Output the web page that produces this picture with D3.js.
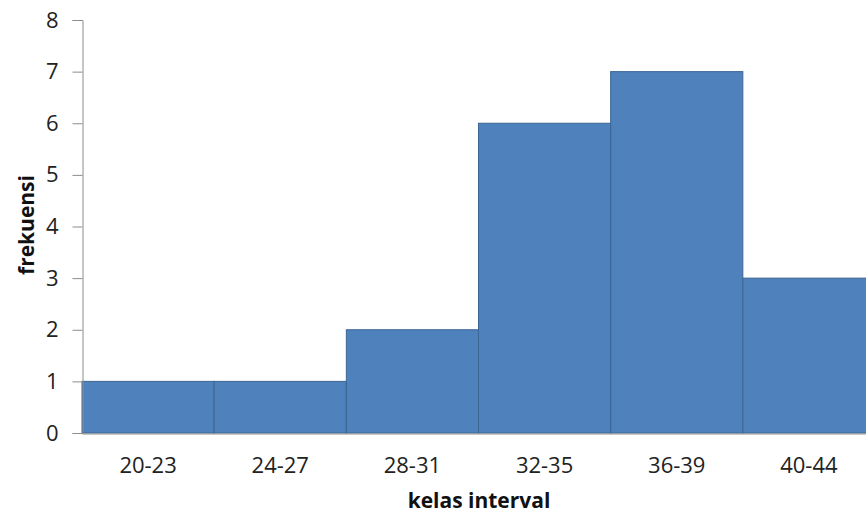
<!DOCTYPE html>
<html><head><meta charset="utf-8">
<script src="https://cdn.jsdelivr.net/npm/d3@7"></script>
<style>body{margin:0;background:#fff;} svg{display:block;}</style>
</head><body>
<script>
const categories = ["20-23","24-27","28-31","32-35","36-39","40-44"];
const frekuensi = [1,1,2,6,7,3];
const yTicks = [0,1,2,3,4,5,6,7,8];

(function(){
const W = 866, H = 515;
const svg = d3.select("body").append("svg").attr("width", W).attr("height", H);
const pL = 82, pR = 875, pT = 20, pB = 433;
const x = d3.scaleBand().domain(categories).range([pL, pR]).padding(0);
const y = d3.scaleLinear().domain([0, 8]).range([pB, pT]);
const font = "'Open Sans', sans-serif";

svg.append("g").selectAll("rect").data(frekuensi).join("rect")
  .attr("x", (d,i) => x(categories[i]))
  .attr("y", d => y(d))
  .attr("width", x.bandwidth())
  .attr("height", d => y(0) - y(d))
  .attr("fill", "#4F81BD")
  .attr("stroke", "#3B6592")
  .attr("stroke-width", 1);

const yAxis = svg.append("g").attr("transform", `translate(${pL + 0.5},0)`)
  .call(d3.axisLeft(y).tickValues(yTicks).tickFormat(d3.format("d")).tickSize(10).tickPadding(14));
yAxis.select(".domain").attr("stroke", "#8c8c8c");
yAxis.selectAll(".tick line").attr("stroke", "#8c8c8c");
yAxis.selectAll(".tick text").attr("font-family", font).attr("font-size", 22).attr("fill", "#222");

const xAxis = svg.append("g").attr("transform", `translate(0,${pB + 0.5})`)
  .call(d3.axisBottom(x).tickSize(0).tickPadding(24));
xAxis.select(".domain").attr("stroke", "#8c8c8c");
xAxis.selectAll(".tick text").attr("font-family", font).attr("font-size", 22).attr("fill", "#222");

svg.append("text").attr("x", 479).attr("y", 508).attr("text-anchor", "middle")
  .attr("font-family", font).attr("font-weight", "bold").attr("font-size", 21).attr("fill", "#111")
  .text("kelas interval");
svg.append("text").attr("transform", "translate(34,225) rotate(-90)").attr("text-anchor", "middle")
  .attr("font-family", font).attr("font-weight", "bold").attr("font-size", 21).attr("fill", "#111")
  .text("frekuensi");
})();
</script>
</body></html>
